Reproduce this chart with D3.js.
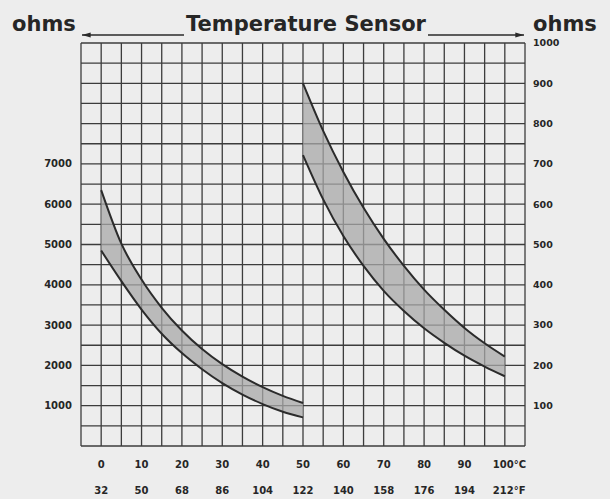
<!DOCTYPE html>
<style>
body { margin: 0; background: #ededed; }
text { font-family: "DejaVu Sans", sans-serif; font-weight: bold; fill: #262626; }
</style>
<svg width="610" height="499"></svg>
<script src="https://d3js.org/d3.v7.min.js"></script>
<script>

// left band (left axis, ohms) 0..50 C
var leftTemps = [0, 5, 10, 15, 20, 25, 30, 35, 40, 45, 50];
var leftUpper = [6350, 5020, 4130, 3430, 2865, 2405, 2030, 1720, 1460, 1243, 1065];
var leftLower = [4850, 4090, 3385, 2785, 2305, 1905, 1560, 1275, 1040, 850, 710];

// right band (right axis, ohms) 50..100 C
var rightTemps = [50, 55, 60, 65, 70, 75, 80, 85, 90, 95, 100];
var rightUpper = [900, 782, 680, 591, 514, 447, 388, 338, 293, 255, 222];
var rightLower = [722, 612, 521, 447, 385, 335, 292, 256, 224, 197, 173];

var leftTicks = [1000, 2000, 3000, 4000, 5000, 6000, 7000];
var rightTicks = [100, 200, 300, 400, 500, 600, 700, 800, 900, 1000];
var celsius = [0, 10, 20, 30, 40, 50, 60, 70, 80, 90, 100];
var fahrenheit = [32, 50, 68, 86, 104, 122, 140, 158, 176, 194, 212];

var svg = d3.select("svg");

var x = d3.scaleLinear().domain([-5, 105]).range([81, 525]);
var y = d3.scaleLinear().domain([0, 1000]).range([446, 43]);   // right axis
var yl = d3.scaleLinear().domain([0, 10000]).range([446, 43]); // left axis

var grid = svg.append("g")
    .attr("stroke", "#3c3c3c")
    .attr("stroke-width", 1.3);

grid.selectAll("line.v").data(d3.range(-5, 106, 5)).enter().append("line")
    .attr("x1", function(d) { return x(d); })
    .attr("x2", function(d) { return x(d); })
    .attr("y1", y(0))
    .attr("y2", y(1000));

grid.selectAll("line.h").data(d3.range(0, 1001, 50)).enter().append("line")
    .attr("y1", function(d) { return y(d); })
    .attr("y2", function(d) { return y(d); })
    .attr("x1", x(-5))
    .attr("x2", x(105));

function band(temps, upper, lower, ys) {
  var pts = temps.map(function(t, i) { return {t: t, u: upper[i], l: lower[i]}; });
  var area = d3.area().curve(d3.curveMonotoneX)
      .x(function(d) { return x(d.t); })
      .y0(function(d) { return ys(d.l); })
      .y1(function(d) { return ys(d.u); });
  svg.append("path").datum(pts)
      .attr("d", area)
      .attr("fill", "#a8a8a8")
      .attr("fill-opacity", 0.75);
  ["u", "l"].forEach(function(k) {
    svg.append("path").datum(pts)
        .attr("d", d3.line().curve(d3.curveMonotoneX)
          .x(function(d) { return x(d.t); })
          .y(function(d) { return ys(d[k]); }))
        .attr("fill", "none")
        .attr("stroke", "#2b2b2b")
        .attr("stroke-width", 2);
  });
}

band(leftTemps, leftUpper, leftLower, yl);
band(rightTemps, rightUpper, rightLower, y);

// axis labels
svg.append("g").selectAll("text").data(leftTicks).enter().append("text")
    .attr("x", 72)
    .attr("y", function(d) { return yl(d); })
    .attr("dy", "0.35em")
    .attr("text-anchor", "end")
    .attr("font-size", 10)
    .text(function(d) { return d; });

svg.append("g").selectAll("text").data(rightTicks).enter().append("text")
    .attr("x", 533)
    .attr("y", function(d) { return y(d); })
    .attr("dy", "0.35em")
    .attr("font-size", 9.5)
    .text(function(d) { return d; });

svg.append("g").selectAll("text").data(celsius).enter().append("text")
    .attr("x", function(d) { return d == 100 ? x(d) - 12 : x(d); })
    .attr("y", 468)
    .attr("text-anchor", function(d) { return d == 100 ? "start" : "middle"; })
    .attr("font-size", 10)
    .text(function(d) { return d == 100 ? d + "°C" : d; });

svg.append("g").selectAll("text").data(fahrenheit).enter().append("text")
    .attr("x", function(d, i) { return d == 212 ? x(100) - 12 : x(celsius[i]); })
    .attr("y", 494)
    .attr("text-anchor", function(d) { return d == 212 ? "start" : "middle"; })
    .attr("font-size", 10)
    .text(function(d) { return d == 212 ? d + "°F" : d; });

// title row
svg.append("text").attr("x", 12).attr("y", 31).attr("font-size", 21).text("ohms");
svg.append("text").attr("x", 533).attr("y", 31).attr("font-size", 21).text("ohms");
svg.append("text").attr("x", 306).attr("y", 31).attr("text-anchor", "middle")
    .attr("font-size", 21).text("Temperature Sensor");

svg.append("defs").append("marker")
    .attr("id", "ah").attr("viewBox", "0 0 10 6")
    .attr("refX", 10).attr("refY", 3)
    .attr("markerWidth", 8).attr("markerHeight", 4).attr("orient", "auto")
  .append("path").attr("d", "M0,0L10,3L0,6Z").attr("fill", "#2a2a2a");

svg.append("line").attr("x1", 184).attr("x2", 82).attr("y1", 35).attr("y2", 35)
    .attr("stroke", "#2a2a2a").attr("stroke-width", 1.3).attr("marker-end", "url(#ah)");
svg.append("line").attr("x1", 428).attr("x2", 524).attr("y1", 35).attr("y2", 35)
    .attr("stroke", "#2a2a2a").attr("stroke-width", 1.3).attr("marker-end", "url(#ah)");

</script>
